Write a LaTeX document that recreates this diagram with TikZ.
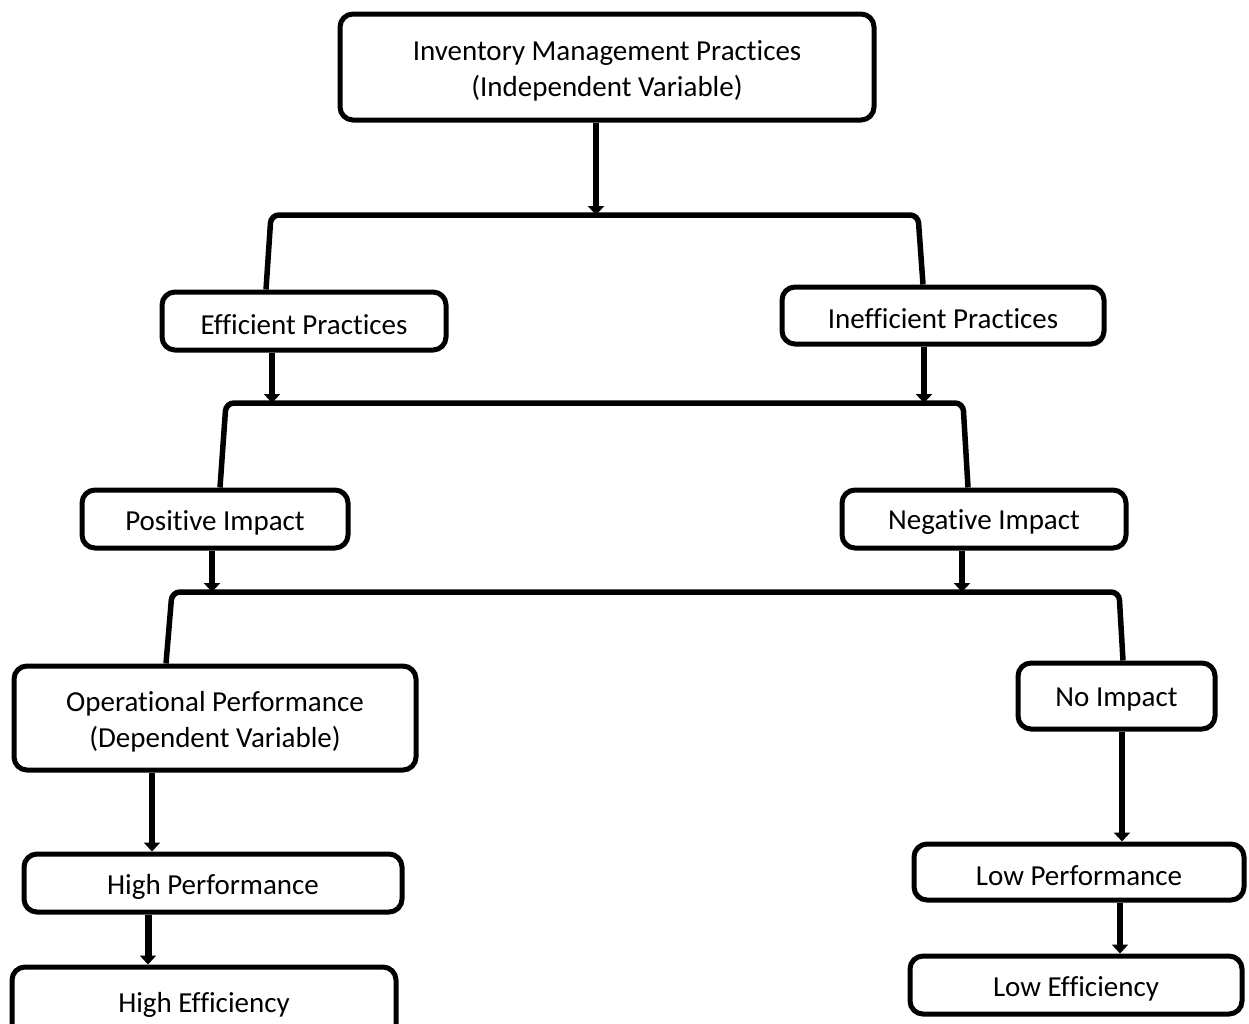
\documentclass[tikz,border=0pt]{standalone}
\usepackage{fontspec}
\setmainfont{Carlito}[Ligatures={NoCommon,NoContextual}]
\usetikzlibrary{arrows.meta}
\newcommand\lowr[1]{\raisebox{-3.5pt}[\height][\depth]{#1}}
\tikzset{
  box/.style={draw=black, line width=5pt, rounded corners=13pt, align=center, inner sep=0pt,
    font=\fontsize{29}{36}\selectfont, fill=white},
  conn/.style={draw=black, line width=5.5pt},
  arr/.style={conn, -{Triangle[width=16pt,length=9pt]}}
}
\begin{document}
\begin{tikzpicture}[x=1pt,y=-1pt]
\useasboundingbox (0,0) rectangle (1249,1023);
\clip (0,0) rectangle (1249,1023);
\fill[white] (0,0) rectangle (1249,1023);
% nodes
\node[box, minimum width=534pt, minimum height=106pt] (top) at (607,67) {\lowr{Inventory Management Practices}\\\lowr{(Independent Variable)}};
\node[box, minimum width=284pt, minimum height=58pt] (eff) at (304,321) {\lowr{Efficient Practices}};
\node[box, minimum width=322pt, minimum height=57pt] (ineff) at (943,315.5) {\lowr{Inefficient Practices}};
\node[box, minimum width=266pt, minimum height=58pt] (pos) at (215,519) {\lowr{Positive Impact}};
\node[box, minimum width=284pt, minimum height=58pt] (neg) at (984,519) {\lowr{Negative Impact}};
\node[box, minimum width=402pt, minimum height=104pt] (oper) at (215,718) {\lowr{Operational Performance}\\\lowr{(Dependent Variable)}};
\node[box, minimum width=197pt, minimum height=66pt] (noimp) at (1116.5,696) {\lowr{No Impact}};
\node[box, minimum width=378pt, minimum height=58pt] (highperf) at (213,883) {\lowr{High Performance}};
\node[box, minimum width=330pt, minimum height=56pt] (lowperf) at (1079,872) {\lowr{Low Performance}};
\node[box, minimum width=384pt, minimum height=76pt] (higheff) at (204,1005) {High Efficiency};
\node[box, minimum width=332pt, minimum height=58pt] (loweff) at (1076,985) {\lowr{Low Efficiency}};
% junction coordinates
\coordinate (j1) at (596,215);
\coordinate (j2a) at (272,403);
\coordinate (j2b) at (924,403);
\coordinate (j3a) at (212,592);
\coordinate (j3b) at (962,592);
% level 1
\draw[arr] ([xshift=-11pt]top.south) -- (j1);
\draw[conn, rounded corners=8pt] ([xshift=-38pt]eff.north) -- (271,215) -- (918,215) -- ([xshift=-20pt]ineff.north);
% level 2
\draw[arr] ([xshift=-32pt]eff.south) -- (j2a);
\draw[arr] ([xshift=-19pt]ineff.south) -- (j2b);
\draw[conn, rounded corners=8pt] ([xshift=5pt]pos.north) -- (226,403) -- (963,403) -- ([xshift=-16pt]neg.north);
% level 3
\draw[arr] ([xshift=-3pt]pos.south) -- (j3a);
\draw[arr] ([xshift=-22pt]neg.south) -- (j3b);
\draw[conn, rounded corners=8pt] ([xshift=-49pt]oper.north) -- (172,592) -- (1119,592) -- ([xshift=6.5pt]noimp.north);
% lower
\draw[arr] ([xshift=-63pt]oper.south) -- ([xshift=-61pt]highperf.north);
\draw[arr, line width=7pt] ([xshift=-65pt]highperf.south) -- ([xshift=-56pt]higheff.north);
\draw[arr] ([xshift=5.5pt]noimp.south) -- ([xshift=43pt]lowperf.north);
\draw[arr] ([xshift=41pt]lowperf.south) -- ([xshift=44pt]loweff.north);
\end{tikzpicture}
\end{document}
